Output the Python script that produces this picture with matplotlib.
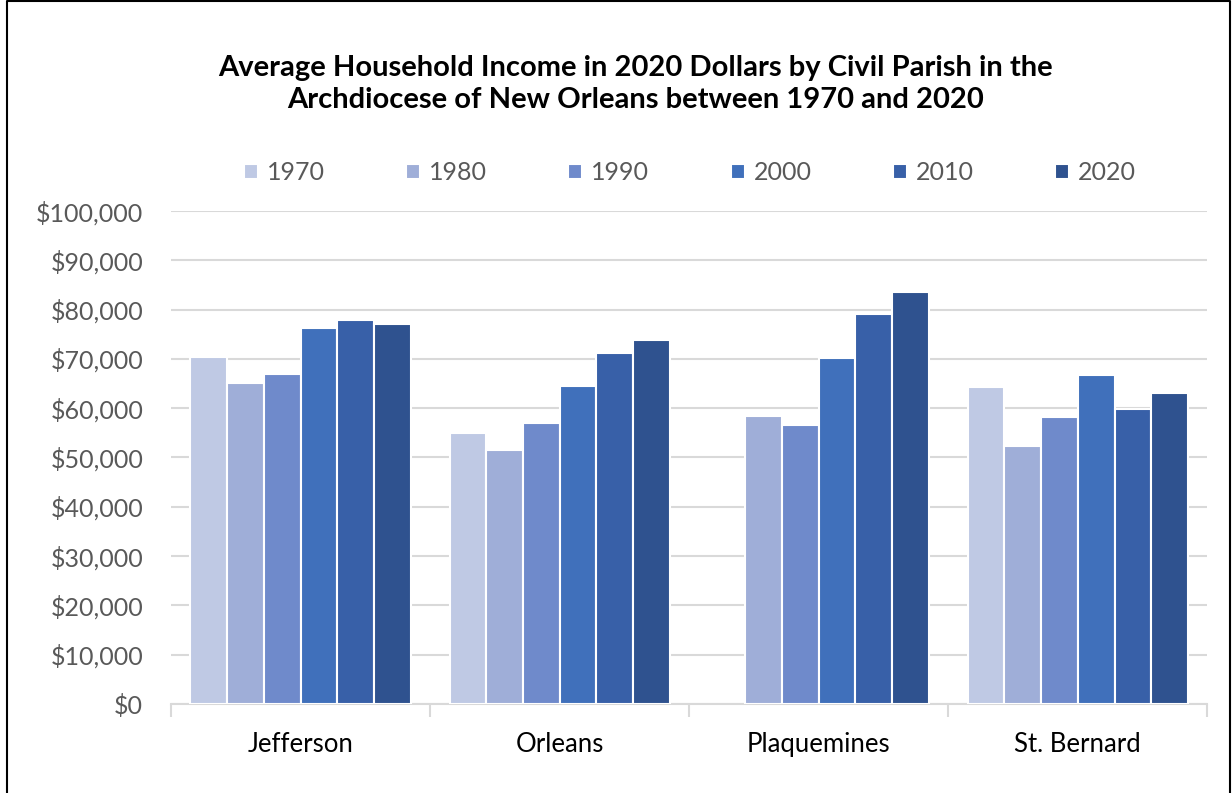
import numpy as np
import matplotlib.pyplot as plt
from matplotlib.lines import Line2D

parishes = ['Jefferson', 'Orleans', 'Plaquemines', 'St. Bernard']
years = ['1970', '1980', '1990', '2000', '2010', '2020']

# average household income (2020 dollars); nan = no bar
inc_1970 = [70300, 54900, np.nan, 64200]
inc_1980 = [65200, 51600, 58500, 52400]
inc_1990 = [67000, 56900, 56500, 58200]
inc_2000 = [76300, 64500, 70100, 66800]
inc_2010 = [77900, 71100, 79100, 59900]
inc_2020 = [77000, 73800, 83500, 63100]

series = [inc_1970, inc_1980, inc_1990, inc_2000, inc_2010, inc_2020]
colours = ['#BFC9E4', '#9FAED8', '#6F8ACB', '#4070BB', '#3860A8', '#2F528F']

plt.rcParams['font.family'] = ['Lato', 'DejaVu Sans']

fig = plt.figure(figsize=(12.32, 7.93), dpi=100)
ax = fig.add_axes([0.1388, 0.1122, 0.8412, 0.6218])

x = np.arange(len(parishes))
w = 0.85 / len(years)
for i, (vals, c) in enumerate(zip(series, colours)):
    pos = x - 0.425 + w * (i + 0.5)
    ax.bar(pos, vals, width=w, color=c, edgecolor='white', linewidth=1.5,
           label=years[i], zorder=3)

ax.set_xlim(-0.5, len(parishes) - 0.5)
ax.set_ylim(0, 100000)
ax.set_yticks(np.arange(0, 100001, 10000))
ax.set_yticklabels(['${:,.0f}'.format(v) for v in np.arange(0, 100001, 10000)],
                   fontsize=18, color='#595959')
ax.grid(axis='y', color='#D9D9D9', linewidth=1.5, zorder=0)
for s in ['top', 'right', 'left']:
    ax.spines[s].set_visible(False)
ax.spines['bottom'].set_color('#D9D9D9')
ax.spines['bottom'].set_linewidth(1.5)
ax.tick_params(axis='y', length=0, pad=20)

# category labels centred, tick marks between categories
ax.set_xticks(x)
ax.set_xticklabels(parishes, fontsize=18.5, color='black')
ax.tick_params(axis='x', length=0, pad=20)
ax.set_xticks(np.arange(-0.5, len(parishes), 1), minor=True)
ax.tick_params(axis='x', which='minor', length=9, color='#D9D9D9', width=1.5)

fig.text(0.516, 0.894, 'Average Household Income in 2020 Dollars by Civil Parish in the\n'
         'Archdiocese of New Orleans between 1970 and 2020',
         ha='center', va='center', fontsize=21, fontweight='bold',
         linespacing=1.3)

leg = fig.legend(loc='center', bbox_to_anchor=(0.560, 0.782), ncol=6,
                 frameon=False, fontsize=18, handlelength=0.56, handleheight=0.56,
                 columnspacing=3.26, handletextpad=0.35)
for t in leg.get_texts():
    t.set_color('#595959')

# chart border (bottom edge is cut off in the original)
bx = [0.006, 0.006, 0.998, 0.998]
by = [0.0, 0.999, 0.999, 0.0]
fig.add_artist(Line2D(bx, by, transform=fig.transFigure, color='black', linewidth=1.5))

fig.savefig('out.png', dpi=100)
